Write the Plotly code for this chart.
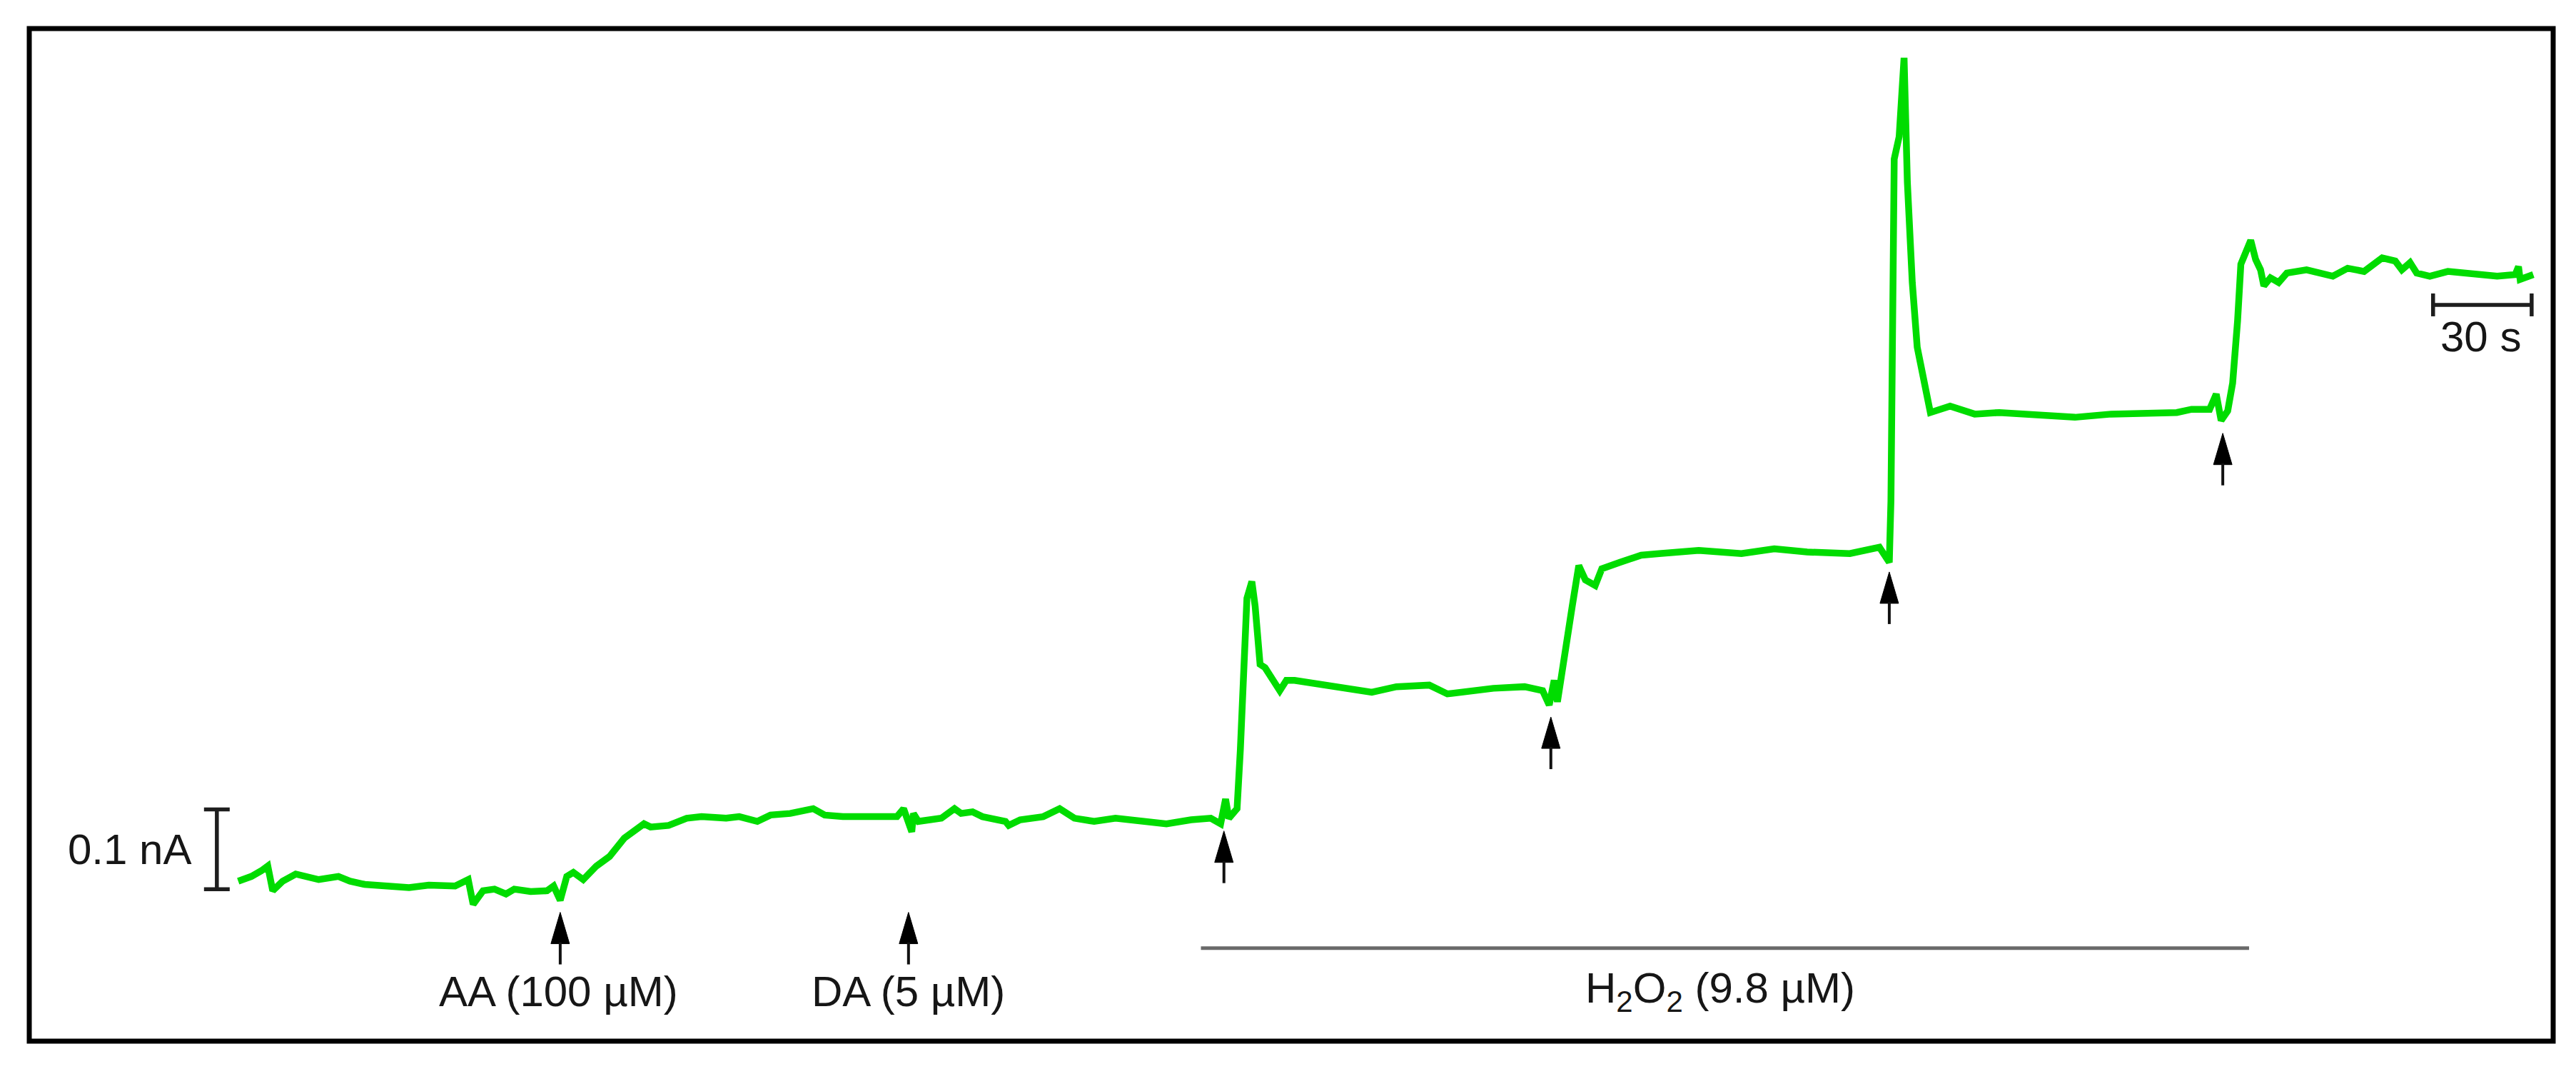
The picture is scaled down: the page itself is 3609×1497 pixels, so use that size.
import plotly.graph_objects as go

# ---------------- data (time in s, current in nA) ----------------
seg_baseline = [(0, 0.010), (4, 0.016), (7, 0.023), (9, 0.029), (10.5, -0.002), (13.5, 0.010),
                (17.5, 0.019), (21, 0.015), (24.5, 0.012), (30.5, 0.016), (34, 0.010), (38.5, 0.006),
                (45.5, 0.004), (52, 0.002), (58, 0.005), (66, 0.004), (70, 0.012), (71.5, -0.019),
                (74.5, -0.002), (78, 0.000), (81.5, -0.006), (84, 0.000), (89, -0.003), (94, -0.002),
                (96, 0.004), (98, -0.014), (100, 0.016), (102, 0.021), (105, 0.012)]
seg_aa = [(109, 0.029), (113, 0.041), (117.5, 0.064), (123.5, 0.082), (125.5, 0.078), (131, 0.080),
          (136.5, 0.089), (141, 0.091), (148.5, 0.089), (152.5, 0.091), (158, 0.085), (162, 0.093),
          (168, 0.095), (175, 0.101), (178.5, 0.093), (184, 0.091), (192, 0.091), (200.5, 0.091)]
seg_da = [(202.5, 0.101), (204, 0.085), (205, 0.072), (205.5, 0.095), (207, 0.085), (214, 0.089),
          (218, 0.101), (220, 0.095), (223.5, 0.097), (226.5, 0.091), (233.5, 0.085), (234.5, 0.080),
          (238, 0.087), (245, 0.091), (250, 0.101), (254.5, 0.089), (260.5, 0.085), (267, 0.089),
          (274, 0.085), (282.5, 0.082), (290, 0.087), (296, 0.089), (299, 0.082)]
seg_h1 = [(300.5, 0.113), (301.5, 0.089), (304, 0.101), (305, 0.175), (306, 0.295), (307, 0.365),
          (308.5, 0.386), (309.5, 0.355), (311, 0.282), (312.5, 0.278), (317, 0.249), (319, 0.262),
          (321.5, 0.262), (333, 0.254), (345, 0.247), (352.5, 0.254), (362.5, 0.256), (368, 0.245),
          (382, 0.252), (391.5, 0.254), (397, 0.249), (399, 0.231)]
seg_h2 = [(400.5, 0.262), (401.5, 0.235), (404, 0.295), (406, 0.355), (408, 0.406), (410, 0.388),
          (413, 0.381), (415, 0.402), (420.5, 0.410), (427, 0.419), (432.5, 0.421), (444.5, 0.425),
          (457.5, 0.421), (467.5, 0.427), (477.5, 0.423), (490.5, 0.421), (499.5, 0.429), (502.5, 0.410)]
seg_h3 = [(503, 0.487), (503.5, 0.716), (504, 0.916), (505.5, 0.944), (507, 1.043), (508, 0.887),
          (509.5, 0.761), (511, 0.680), (515, 0.598), (521, 0.606), (528.5, 0.596), (536, 0.598),
          (547.5, 0.594), (559, 0.592), (570, 0.596), (582, 0.596), (590, 0.598), (594.5, 0.602),
          (600, 0.602), (602, 0.621), (603.5, 0.588), (605.5, 0.600)]
seg_h4 = [(607, 0.635), (608.5, 0.713), (609.5, 0.784), (610.5, 0.794), (612.5, 0.814), (614, 0.790),
          (615.5, 0.777), (616.5, 0.757), (618.5, 0.767), (621, 0.761), (623.5, 0.773), (629.5, 0.777),
          (637.5, 0.769), (642, 0.779), (647, 0.775), (652.5, 0.792), (656.5, 0.788), (658.5, 0.777),
          (661, 0.786), (663, 0.773), (667, 0.769), (672.5, 0.775), (681.5, 0.771), (687.5, 0.769),
          (693, 0.771), (694, 0.781), (694.5, 0.765), (698.5, 0.771)]

# injection events (arrows)
event_t = [98, 204, 300, 399.5, 502.5, 604]
arrow_tip_nA = [-0.029, -0.029, 0.073, 0.216, 0.398, 0.572]

# labels
label_text = ["AA (100 µM)", "DA (5 µM)", "H<sub>2</sub>O<sub>2</sub> (9.8 µM)"]
label_t = [97.5, 204, 451]
label_nA = [-0.128, -0.128, -0.128]

h2o2_bar_t = [293, 612]
h2o2_bar_nA = -0.074

# scale bars
scale_i_t = -6.5
scale_i_nA = [0.0, 0.1]
scale_i_label = "0.1 nA"
scale_i_label_t = -13.9
scale_t_s = [668, 698]
scale_t_nA = 0.733
scale_t_label = "30 s"
scale_t_label_nA = 0.693

# ---------------- layout constants ----------------
W, H = 3609, 1497
X_RANGE = [-72.5, 711.5]
Y_RANGE = [-0.2256, 1.1155]
PX_S = W / (X_RANGE[1] - X_RANGE[0])
PX_NA = H / (Y_RANGE[1] - Y_RANGE[0])

FONT = dict(family="Liberation Sans, Arial, sans-serif", size=60, color="#161616")
INK = "#1e1e1e"

pts = seg_baseline + seg_aa + seg_da + seg_h1 + seg_h2 + seg_h3 + seg_h4
time_s = [p[0] for p in pts]
current_nA = [p[1] for p in pts]

fig = go.Figure()
fig.add_trace(go.Scatter(x=time_s, y=current_nA, mode="lines",
                         line=dict(color="#00dc00", width=9.5), hoverinfo="skip"))

shapes = []
# frame
shapes.append(dict(type="rect", xref="paper", yref="paper",
                   x0=41 / W, x1=3577 / W, y0=1 - 1458 / H, y1=1 - 40 / H,
                   line=dict(color="#000000", width=7), fillcolor="rgba(0,0,0,0)"))

# arrows
head_len = 44 / PX_NA
head_half = 13 / PX_S
arrow_len = 73 / PX_NA
for t, tip in zip(event_t, arrow_tip_nA):
    shapes.append(dict(type="path", xref="x", yref="y",
                       path=f"M{t},{tip} L{t - head_half},{tip - head_len} L{t + head_half},{tip - head_len} Z",
                       line=dict(color="#000000", width=1), fillcolor="#000000"))
    shapes.append(dict(type="line", xref="x", yref="y", x0=t, x1=t,
                       y0=tip - head_len + 2 / PX_NA, y1=tip - arrow_len,
                       line=dict(color="#111111", width=4)))

# H2O2 bar
shapes.append(dict(type="line", xref="x", yref="y", x0=h2o2_bar_t[0], x1=h2o2_bar_t[1],
                   y0=h2o2_bar_nA, y1=h2o2_bar_nA, line=dict(color="#6a6a6a", width=5)))

# vertical scale bar
cap_t = 18 / PX_S
shapes.append(dict(type="line", xref="x", yref="y", x0=scale_i_t, x1=scale_i_t,
                   y0=scale_i_nA[0], y1=scale_i_nA[1], line=dict(color=INK, width=5.5)))
for v in scale_i_nA:
    shapes.append(dict(type="line", xref="x", yref="y", x0=scale_i_t - cap_t, x1=scale_i_t + cap_t,
                       y0=v, y1=v, line=dict(color=INK, width=5.5)))
# horizontal scale bar
cap_i = 16 / PX_NA
shapes.append(dict(type="line", xref="x", yref="y", x0=scale_t_s[0], x1=scale_t_s[1],
                   y0=scale_t_nA, y1=scale_t_nA, line=dict(color=INK, width=5.5)))
for v in scale_t_s:
    shapes.append(dict(type="line", xref="x", yref="y", x0=v, x1=v,
                       y0=scale_t_nA - cap_i, y1=scale_t_nA + cap_i, line=dict(color=INK, width=5.5)))

annotations = []
for txt, t, v in zip(label_text, label_t, label_nA):
    annotations.append(dict(x=t, y=v, xref="x", yref="y", text=txt, showarrow=False,
                            xanchor="center", yanchor="middle", font=FONT))
annotations.append(dict(x=scale_i_label_t, y=sum(scale_i_nA) / 2, xref="x", yref="y",
                        text=scale_i_label, showarrow=False, xanchor="right", yanchor="middle", font=FONT))
annotations.append(dict(x=sum(scale_t_s) / 2 - 0.5, y=scale_t_label_nA, xref="x", yref="y",
                        text=scale_t_label, showarrow=False, xanchor="center", yanchor="middle", font=FONT))

fig.update_layout(
    width=W, height=H, margin=dict(l=0, r=0, t=0, b=0, pad=0),
    paper_bgcolor="white", plot_bgcolor="white", showlegend=False,
    shapes=shapes, annotations=annotations,
    xaxis=dict(range=X_RANGE, visible=False, showgrid=False, zeroline=False, fixedrange=True),
    yaxis=dict(range=Y_RANGE, visible=False, showgrid=False, zeroline=False, fixedrange=True),
)

fig.write_html("out.html", config={"displayModeBar": False},
               post_script="document.body.style.margin='0';document.body.style.overflow='hidden';")
